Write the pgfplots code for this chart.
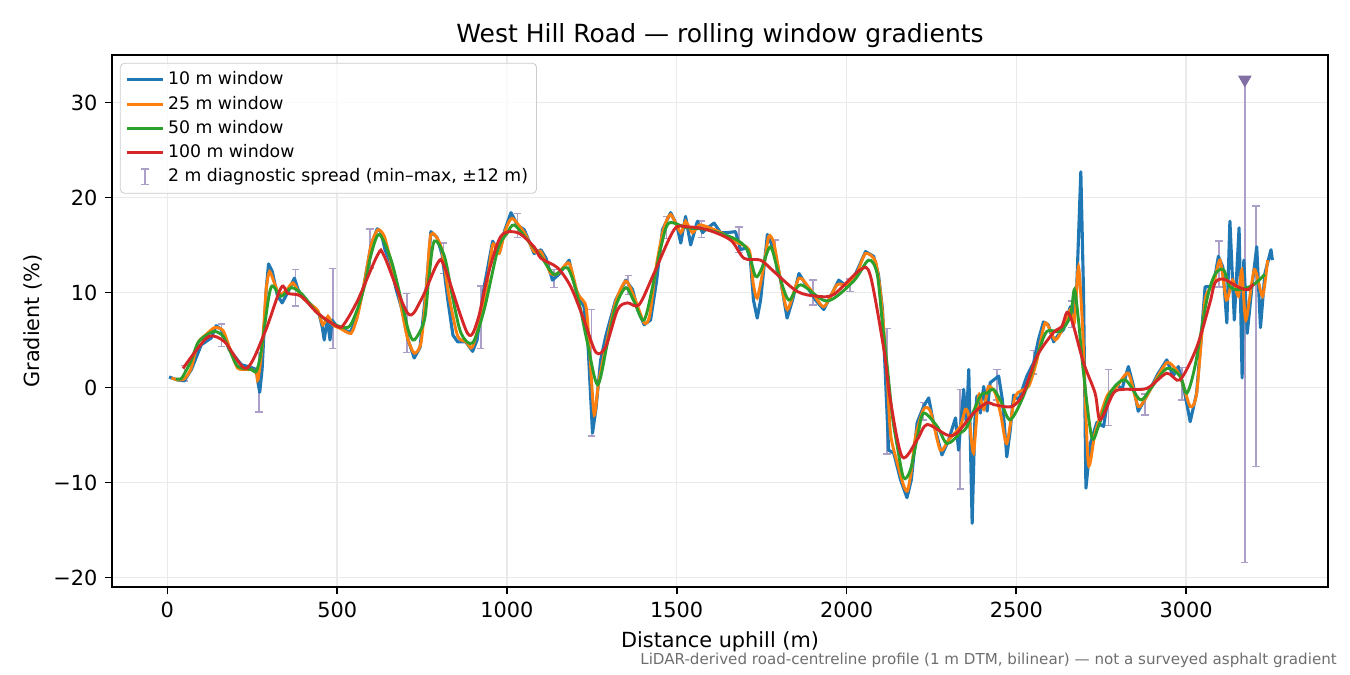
\documentclass[border=0pt]{standalone}
\usepackage{fontspec}
\setmainfont{DejaVu Sans}
\usepackage{pgfplots}
\pgfplotsset{compat=1.18}
\usepackage{pgfplotstable}

\definecolor{c10}{HTML}{1F77B4}
\definecolor{c25}{HTML}{FF7F0E}
\definecolor{c50}{HTML}{2CA02C}
\definecolor{c100}{HTML}{D62728}
\definecolor{errc}{RGB}{172,160,200}
\definecolor{tric}{RGB}{130,112,165}
\definecolor{gridc}{RGB}{234,234,234}

% 10 m window
\pgfplotstableread{
x y
5 1.1
29 0.8
50 0.7
71 1.9
100 4.5
129 5.2
144 6.5
159 6.1
182 4.0
218 2.4
247 2.1
262 1.9
268 0.3
272 -0.5
279 1.9
291 10.3
298 13.0
309 12.2
324 9.7
338 8.9
356 10.1
374 11.5
385 10.3
400 9.4
424 8.7
447 7.7
456 6.4
462 5.0
471 7.3
479 5.0
485 7.1
497 6.5
518 6.1
538 5.8
556 7.1
579 10.8
600 15.0
618 16.7
629 16.4
641 14.5
656 13.2
674 10.3
691 8.2
709 5.0
727 3.1
744 4.2
762 10.3
776 16.4
794 15.8
809 14.0
826 9.2
841 5.5
855 4.8
879 4.8
899 3.8
912 5.0
933 10.6
958 15.4
977 14.1
994 16.6
1012 18.4
1031 17.1
1051 16.6
1080 14.1
1100 14.5
1115 13.6
1134 11.3
1153 11.9
1183 13.4
1203 10.3
1227 8.5
1238 5.0
1252 -4.8
1262 -2.3
1276 2.9
1291 5.4
1320 9.2
1350 11.3
1370 10.3
1385 8.2
1404 6.6
1423 7.1
1441 11.3
1458 16.6
1482 18.4
1500 17.1
1512 15.2
1526 18.0
1541 15.0
1561 17.5
1576 16.3
1591 16.8
1610 17.3
1629 16.3
1650 16.3
1673 16.4
1688 14.5
1706 14.7
1717 13.4
1726 9.2
1737 7.3
1747 9.2
1767 16.1
1786 14.5
1806 11.3
1825 7.3
1841 9.2
1860 12.0
1884 10.6
1909 9.2
1933 8.2
1956 9.8
1977 11.3
2002 10.6
2026 11.9
2056 14.3
2080 13.8
2094 11.9
2106 8.2
2115 0.8
2124 -6.6
2139 -6.9
2159 -9.7
2178 -11.6
2191 -9.7
2208 -3.7
2227 -2.0
2242 -1.1
2256 -3.7
2281 -7.1
2301 -5.5
2321 -3.2
2330 -6.6
2345 -0.2
2353 -3.9
2360 1.9
2370 -14.3
2378 -3.4
2384 -0.9
2394 -2.7
2404 0.1
2414 -2.5
2423 0.5
2448 1.2
2459 -1.3
2472 -7.3
2482 -4.5
2492 -0.8
2507 -1.3
2531 1.2
2551 2.6
2565 5.0
2580 6.9
2594 6.6
2610 4.8
2623 5.5
2639 6.1
2659 8.5
2669 7.5
2678 10.6
2690 22.7
2698 9.9
2705 -10.6
2718 -5.9
2737 -3.7
2757 -4.1
2771 -0.9
2796 0.3
2811 -0.2
2830 2.2
2844 0.3
2859 -2.5
2884 -0.9
2918 1.5
2943 2.9
2962 1.2
2977 2.2
2994 -0.2
3012 -3.6
3031 -0.6
3044 5.0
3056 10.6
3080 10.6
3095 13.8
3108 12.7
3120 6.8
3129 17.5
3142 7.1
3156 16.8
3165 1.0
3170 13.4
3180 5.7
3193 10.3
3208 14.8
3219 6.3
3232 12.0
3250 14.5
3254 13.4
}\tabten

% 25 m window
\pgfplotstableread{
x y
12 1.0
31 0.8
50 0.9
70 2.0
90 4.7
115 5.6
139 6.3
164 6.0
185 4.0
208 2.0
247 1.9
262 1.5
267 0.8
280 4.5
291 10.3
301 12.2
315 11.0
330 9.8
350 10.2
370 11.0
394 9.6
420 8.8
443 8.1
458 6.6
473 7.5
487 6.6
510 6.2
541 5.7
560 7.5
580 11.0
600 15.0
620 16.6
639 15.9
660 13.0
679 10.3
705 5.5
727 3.6
747 4.7
762 10.0
776 16.1
806 14.8
830 9.5
855 5.4
880 4.8
899 4.3
933 8.9
958 15.0
977 14.1
995 16.5
1015 17.8
1051 16.3
1080 14.3
1100 14.3
1129 12.0
1150 12.0
1183 13.1
1208 9.9
1233 8.5
1245 3.0
1257 -2.9
1270 0.5
1291 4.3
1320 9.0
1350 11.2
1375 9.5
1404 6.8
1420 7.5
1438 12.4
1460 16.5
1482 18.2
1512 16.3
1526 17.5
1546 16.3
1566 17.1
1590 16.9
1630 16.3
1668 15.4
1713 14.5
1725 11.0
1737 9.4
1755 12.5
1771 15.9
1786 15.2
1805 11.5
1826 8.2
1860 11.5
1894 10.3
1933 8.5
1972 10.8
2002 10.8
2030 12.0
2056 14.1
2085 13.3
2100 10.0
2110 6.0
2120 1.0
2130 -5.0
2150 -8.0
2168 -10.3
2179 -10.9
2190 -9.0
2203 -5.2
2227 -2.3
2247 -2.5
2276 -6.6
2301 -5.5
2335 -4.1
2350 -2.3
2360 -3.0
2374 -6.9
2389 -0.8
2404 -2.3
2418 0.1
2438 -0.6
2455 -3.0
2472 -5.9
2497 -0.9
2536 0.1
2561 2.9
2585 6.8
2615 5.0
2639 6.4
2659 8.2
2671 6.8
2683 12.7
2695 6.4
2712 -8.0
2732 -4.8
2767 -0.9
2796 0.1
2830 1.5
2859 -2.0
2884 -0.9
2943 2.6
2982 1.2
3012 -2.0
3031 -0.6
3056 9.2
3080 10.8
3100 13.4
3119 9.2
3137 11.3
3154 9.6
3164 12.4
3176 7.1
3201 12.4
3225 9.6
3240 13.4
}\tabtwentyfive

% 50 m window
\pgfplotstableread{
x y
25 0.9
40 0.9
51 1.5
70 2.8
90 4.7
115 5.5
139 5.9
164 5.4
185 3.8
208 2.2
247 1.9
262 1.7
275 3.5
286 6.4
306 10.6
335 9.6
365 10.5
394 9.9
420 8.8
443 7.8
482 6.8
531 6.3
555 7.8
580 10.6
600 14.0
624 16.1
659 13.4
690 9.0
710 6.0
727 5.0
757 7.1
770 11.5
786 15.4
816 13.8
840 9.5
865 5.7
899 4.7
933 8.2
973 14.5
1000 16.2
1021 17.1
1061 15.5
1100 13.8
1139 11.9
1178 12.6
1208 9.6
1237 4.7
1267 0.3
1296 4.7
1320 8.5
1350 10.5
1375 9.0
1404 7.1
1433 11.3
1455 15.0
1477 17.3
1531 16.8
1590 16.6
1668 15.7
1708 14.5
1732 11.7
1750 12.5
1776 14.8
1800 12.0
1830 9.2
1865 10.8
1943 9.1
2021 11.2
2065 13.4
2090 12.0
2105 7.0
2120 2.2
2135 -3.0
2150 -6.3
2168 -9.5
2188 -8.7
2210 -5.0
2227 -2.7
2267 -4.1
2296 -5.9
2335 -4.8
2355 -4.1
2394 -0.9
2414 -0.6
2433 -0.2
2455 -1.5
2482 -3.4
2521 -0.9
2561 3.3
2590 5.9
2629 5.9
2659 7.5
2671 10.3
2683 7.1
2698 1.5
2722 -5.2
2742 -4.1
2776 -0.6
2820 0.8
2865 -1.3
2894 -0.2
2943 2.0
2982 1.2
3002 -0.6
3026 2.2
3061 9.2
3085 11.9
3110 12.4
3129 10.6
3158 10.3
3198 10.8
3232 11.9
}\tabfifty

% 100 m window
\pgfplotstableread{
x y
46 2.0
85 3.9
124 5.4
169 4.8
232 2.0
286 5.7
335 10.5
355 9.9
394 9.6
443 7.8
502 6.4
521 6.7
561 9.2
620 14.0
639 13.8
708 7.8
747 9.2
796 13.1
816 12.7
884 5.7
914 7.1
943 11.7
982 15.9
1031 16.3
1080 14.8
1100 13.6
1149 12.6
1188 10.6
1227 7.1
1262 3.7
1291 4.3
1326 8.2
1355 8.9
1389 8.7
1433 12.0
1492 16.6
1531 16.9
1590 16.6
1659 15.5
1698 13.6
1747 13.4
1786 12.2
1855 10.1
1914 9.6
1963 9.8
2041 12.4
2070 11.8
2110 4.0
2129 -1.3
2164 -7.3
2208 -5.5
2237 -3.9
2296 -5.0
2325 -4.8
2374 -2.7
2414 -1.6
2433 -1.8
2487 -2.0
2521 -0.6
2561 3.3
2610 5.8
2634 6.4
2649 7.9
2665 6.9
2698 2.6
2732 -0.6
2747 -3.4
2786 -0.6
2815 -0.2
2884 -0.1
2943 1.5
2982 0.8
3031 4.2
3070 8.9
3085 11.0
3110 11.4
3158 10.5
3183 10.3
3198 10.9
}\tabhundred

% 2 m diagnostic spread: centre and half range
\pgfplotstableread{
x y e
51 1.5 0.8
159 5.5 1.2
270 0.5 3.1
377 10.5 1.9
487 8.3 4.2
597 14.65 2.05
705 6.8 3.1
813 13.6 1.6
923 7.4 3.3
1031 17.05 1.25
1139 11.45 0.95
1249 1.55 6.65
1357 10.8 1.0
1470 16.85 1.15
1573 16.65 0.85
1683 15.55 1.35
1791 13.85 1.65
1901 10.0 1.3
2010 10.75 0.65
2119 -0.4 6.6
2226 -2.5 0.9
2335 -5.45 5.25
2443 0.3 1.6
2551 2.65 1.25
2662 7.7 1.4
2771 -1.05 2.95
2879 -1.8 1.1
2988 0.4 1.7
3097 13.0 2.4
3206 5.4 13.7
}\taberr

\begin{document}
\begin{tikzpicture}
\begin{axis}[
  scale only axis,
  width=583.7pt, height=255.4pt,
  xmin=-163, xmax=3418, ymin=-21, ymax=35,
  xtick={0,500,1000,1500,2000,2500,3000},
  xticklabels={0,500,1000,1500,2000,2500,3000},
  ytick={-20,-10,0,10,20,30},
  yticklabels={−20,−10,0,10,20,30},
  tick align=outside, xtick pos=bottom, ytick pos=left,
  major tick length=3.5pt,
  tick style={black, line width=0.8pt},
  axis line style={line width=0.8pt},
  grid=major,
  major grid style={gridc, line width=0.7pt},
  ticklabel style={font=\fontsize{10}{12}\selectfont},
  title={West Hill Road — rolling window gradients},
  title style={font=\fontsize{12}{14}\selectfont, at={(axis description cs:0.5,1.0)}, anchor=base},
  xlabel={Distance uphill (m)},
  xlabel style={font=\fontsize{10}{12}\selectfont, at={(axis description cs:0.5,-0.1128)}, anchor=base},
  ylabel={Gradient (\%)},
  ylabel style={font=\fontsize{10}{12}\selectfont, at={(axis description cs:-0.0593,0.5)}, anchor=base, rotate=0},
  legend cell align=left,
  legend image code/.code={\draw[#1, sharp plot] (0pt,0pt) -- (17.3pt,0pt);},
  legend style={at={(axis description cs:0,1)}, anchor=north west, xshift=3.8pt, yshift=-3.8pt,
    font=\fontsize{8.3}{10}\selectfont, draw={rgb,255:red,204;green,204;blue,204}, rounded corners=2pt,
    fill=white, fill opacity=0.8, text opacity=1, row sep=0.6pt, inner sep=2.5pt,
    nodes={inner sep=1.6pt}},
]
\coordinate (ll) at (rel axis cs:0,0);

\addplot[forget plot, draw=none, mark=none,
  error bars/.cd, y dir=both, y explicit,
  error bar style={errc, line width=0.75pt, solid},
  error mark options={rotate=90, errc, mark size=1.75pt, line width=0.75pt}]
  table[x=x, y=y, y error=e] {\taberr};
\addplot[forget plot, errc, line width=0.75pt, mark=-, mark indices={1},
  mark options={mark size=1.75pt, solid}] coordinates {(3173,-18.4) (3173,32.4)};
\addplot[forget plot, only marks, mark=triangle*, mark size=3.4pt,
  mark options={rotate=180, fill=tric, draw=tric}] coordinates {(3173,32.4)};

\addplot[c10, line width=1.5pt, line join=round] table[x=x, y=y] {\tabten};
\addlegendentry{10 m window}
\addplot[c25, line width=1.4pt, smooth, tension=0.4] table[x=x, y=y] {\tabtwentyfive};
\addlegendentry{25 m window}
\addplot[c50, line width=1.4pt, smooth, tension=0.5] table[x=x, y=y] {\tabfifty};
\addlegendentry{50 m window}
\addplot[c100, line width=1.4pt, smooth, tension=0.5] table[x=x, y=y] {\tabhundred};
\addlegendentry{100 m window}

\addlegendimage{legend image code/.code={
  \draw[errc, line width=0.75pt] (8.65pt,-3.8pt) -- (8.65pt,3.8pt)
    (6.9pt,-3.8pt) -- (10.4pt,-3.8pt) (6.9pt,3.8pt) -- (10.4pt,3.8pt);}}
\addlegendentry{2 m diagnostic spread (min–max, ±12 m)}
\end{axis}
\node[anchor=base east, font=\fontsize{7.25}{8}\selectfont, text={rgb,255:red,110;green,110;blue,110}]
  at ([shift={(591.4pt,-37pt)}]ll) {LiDAR-derived road-centreline profile (1 m DTM, bilinear) — not a surveyed asphalt gradient};
\pgfresetboundingbox
\path ([shift={(-53.76pt,-42.24pt)}]ll) rectangle ++(648pt,324pt);
\end{tikzpicture}
\end{document}
